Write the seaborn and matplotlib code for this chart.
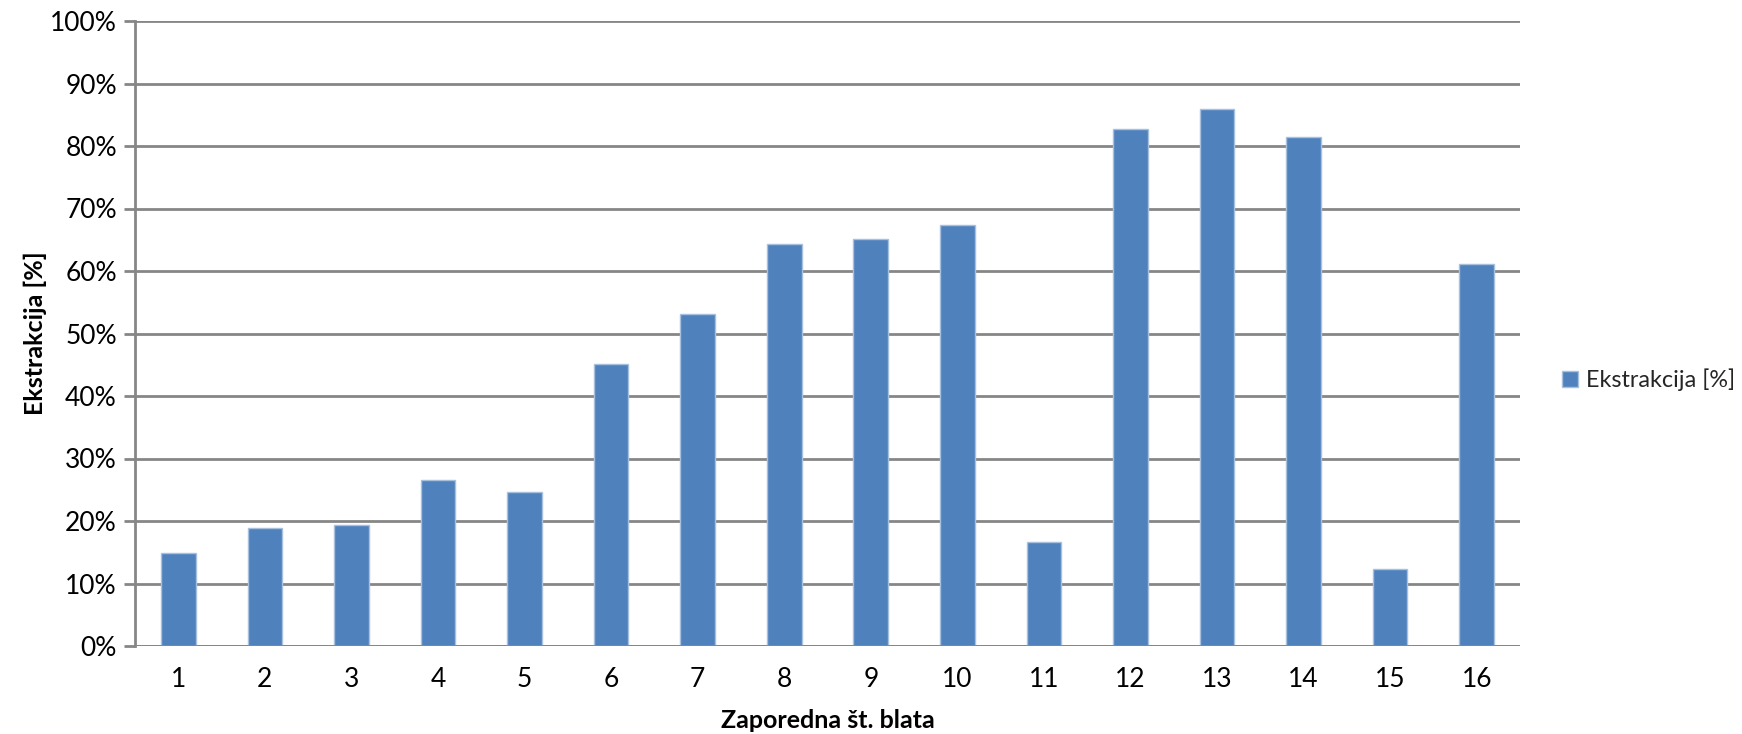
import matplotlib
matplotlib.use("Agg")
import matplotlib.pyplot as plt
import seaborn as sns
import pandas as pd
from matplotlib.ticker import FuncFormatter, MultipleLocator

# Extraction yield per sample
samples = [str(i) for i in range(1, 17)]
extraction = [14.9, 18.9, 19.4, 26.5, 24.7, 45.1, 53.1, 64.3,
              65.2, 67.4, 16.6, 82.7, 86.0, 81.5, 12.3, 61.2]
series_name = "Ekstrakcija [%]"
x_title = "Zaporedna št. blata"
y_title = "Ekstrakcija [%]"

df = pd.DataFrame({"sample": samples, "value": extraction})

sns.set_theme(style="white")
plt.rcParams["font.family"] = ["Lato", "DejaVu Sans"]

fig = plt.figure(figsize=(17.42, 7.34), dpi=100)
ax = fig.add_axes([135 / 1742, 1 - 646 / 734, (1520 - 135) / 1742, (646 - 21) / 734])

bar_color = "#4F81BD"
sns.barplot(data=df, x="sample", y="value", color=bar_color, width=0.4,
            edgecolor="#A7C0DE", linewidth=1.0, saturation=1, ax=ax,
            label=series_name)

ax.set_ylim(0, 100)
ax.set_xlim(-0.5, len(samples) - 0.5)
ax.yaxis.set_major_locator(MultipleLocator(10))
ax.yaxis.set_major_formatter(FuncFormatter(lambda v, _: f"{v:.0f}%"))

grid_color = "#868686"
ax.grid(axis="y", color=grid_color, linewidth=2)
ax.set_axisbelow(True)
for side in ["top", "right", "bottom"]:
    ax.spines[side].set_visible(False)
ax.spines["left"].set_color(grid_color)
ax.spines["left"].set_linewidth(2)
ax.axhline(0, color=grid_color, linewidth=2, zorder=3)

ax.tick_params(axis="y", which="major", length=8, width=2, color=grid_color,
               direction="out", left=True, labelsize=19, pad=5, labelcolor="black")
ax.tick_params(axis="x", length=0, labelsize=19, pad=15, labelcolor="black")

ax.set_xlabel(x_title, fontsize=18, fontweight="bold", labelpad=12, color="black")
ax.set_ylabel(y_title, fontsize=18, fontweight="bold", labelpad=2, color="black")

leg = ax.legend(loc="center left", bbox_to_anchor=(1.030, 0.4256), frameon=False,
                fontsize=16.8, handlelength=0.7, handleheight=0.7,
                handletextpad=0.35, borderaxespad=0, borderpad=0)

fig.savefig("out.png", dpi=100, facecolor="white")
